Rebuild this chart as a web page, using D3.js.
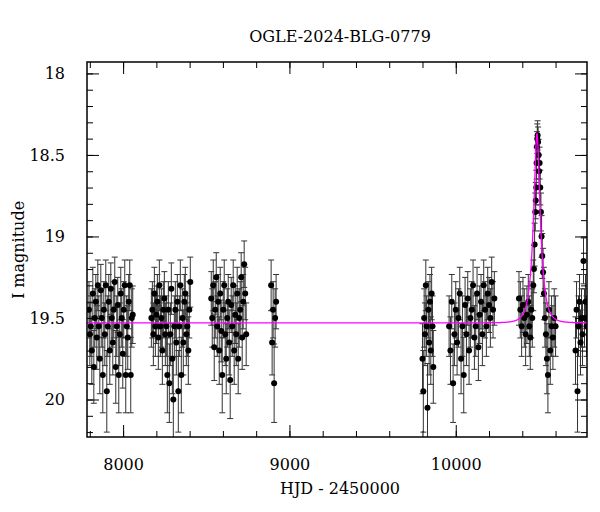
<!DOCTYPE html>
<html><head><meta charset="utf-8">
<script src="https://cdn.jsdelivr.net/npm/d3@7"></script>
<style>body{margin:0;background:#fff}text{font-family:"DejaVu Serif",serif}</style>
</head><body><svg id="c" width="600" height="512"></svg>
<script>
const title = "OGLE-2024-BLG-0779";
const xLabel = "HJD - 2450000";
const yLabel = "I magnitude";
const xTicks = [8000, 9000, 10000];
const yTicks = [18, 18.5, 19, 19.5, 20];
// observations: HJD-2450000, I mag, error
const obsJD = [
7795,7800,7806,7812,7818,7824,7830,7836,7842,7848,7854,7860,7866,7872,7878,7884,7890,7896,7902,7908,7914,7920,7926,7932,7938,7944,7950,7956,7962,7968,7974,7980,7986,7992,7998,8004,8010,8016,8022,8028,8034,8040,8046,8052,8058,
8170,8176,8182,8188,8194,8200,8206,8212,8218,8224,8230,8236,8242,8248,8254,8260,8266,8272,8278,8284,8290,8296,8302,8308,8314,8320,8326,8332,8338,8344,8350,8356,8362,8368,8374,8380,8386,8392,8398,8404,
8530,8536,8542,8548,8554,8560,8566,8572,8578,8584,8590,8596,8602,8608,8614,8620,8626,8632,8638,8644,8650,8656,8662,8668,8674,8680,8686,8692,8698,8704,8710,8716,8722,8728,8734,8740,
8890,8896,8902,8908,8914,8920,
9800,9805,9810,9815,9820,9825,9830,9835,9840,9845,9850,9855,9860,9865,
9960,9968,9976,9984,9992,10000,10008,10016,10024,10032,10040,10048,10056,10064,10072,10080,10088,10096,10104,10112,10120,10128,10136,10144,10152,10160,10168,10176,10184,10192,10200,10208,10216,10224,10232,
10380,10388,10396,10404,10412,10420,10428,10436,10442,10448,10454,10460,10466,10470,10474,10478,10481,10484,10486,10488,10490,10492,10495,10498,10501,10504,10508,10512,10516,10520,10525,10530,10536,10542,10548,10554,10560,10568,10576,10584,10592,10600,
10720,10726,10732,10738,10744,10750,10756,10762,10768,10774,10780,10786];
const obsMag = [
19.45,19.60,19.55,19.70,19.35,19.80,19.50,19.40,19.62,19.30,19.55,19.75,19.33,19.50,19.85,19.45,19.60,19.30,19.95,19.55,19.40,19.70,19.32,19.50,19.65,19.45,19.28,19.80,19.55,19.42,19.85,19.60,19.35,19.50,19.72,19.45,19.30,19.85,19.55,19.62,19.40,19.30,19.85,19.50,19.48,
19.50,19.45,19.60,19.35,19.55,19.48,19.40,19.62,19.30,19.55,19.50,19.70,19.45,19.38,19.60,19.55,19.85,19.45,19.90,19.60,19.32,19.75,20.00,19.55,19.45,19.65,19.40,19.95,19.55,19.30,19.85,19.50,19.65,19.40,19.35,19.60,19.55,19.70,19.45,19.28,
19.38,19.50,19.30,19.68,19.45,19.25,19.55,19.40,19.70,19.35,19.58,19.85,19.45,19.30,19.60,19.75,19.50,19.40,19.65,19.88,19.42,19.55,19.30,19.70,19.48,19.60,19.35,19.75,19.50,19.45,19.25,19.62,19.40,19.17,19.35,19.60,
19.30,19.65,19.45,19.90,19.50,19.40,
19.75,19.95,19.50,19.60,19.30,19.55,20.05,19.45,19.65,19.40,19.70,19.35,19.55,19.80,
19.55,19.70,19.40,19.90,19.60,19.45,19.65,19.50,19.35,19.75,19.55,19.85,19.42,19.60,19.38,19.70,19.50,19.45,19.30,19.62,19.55,19.35,19.68,19.48,19.40,19.60,19.30,19.45,19.55,19.35,19.42,19.50,19.28,19.45,19.38,
19.38,19.45,19.55,19.42,19.50,19.60,19.48,19.40,19.55,19.62,19.45,19.50,19.30,19.20,19.05,18.85,18.78,18.70,18.55,18.45,18.40,18.38,18.42,18.50,18.60,18.55,18.70,18.85,19.00,19.12,19.22,19.35,19.50,19.60,19.75,19.85,19.45,19.70,19.55,19.62,19.50,19.55,
19.70,19.45,19.95,19.55,19.40,19.65,19.50,19.60,19.15,19.50,19.40,19.55];
const obsErr = obsMag.map(m => 0.04 + 0.22*Math.pow(10,0.4*(m-20)) ); // photometric error grows with magnitude
// microlensing model (Paczynski) parameters
const model = {t0:10488, tE:40, u0:0.36, base:19.53};

const svg = d3.select("#c");
const L=87,R=587,T=62,B=437;
const x = d3.scaleLinear().domain([7783,10789]).range([L,R]);
const y = d3.scaleLinear().domain([17.93,20.23]).range([T,B]);

svg.append("clipPath").attr("id","cp").append("rect").attr("x",L).attr("y",T).attr("width",R-L).attr("height",B-T);
const g = svg.append("g").attr("clip-path","url(#cp)");
const pts = obsJD.map((d,i)=>({t:d,m:obsMag[i],e:obsErr[i]}));
const eb = g.append("g").attr("stroke","#333").attr("stroke-width",1);
pts.forEach(p=>{
  eb.append("line").attr("x1",x(p.t)).attr("x2",x(p.t)).attr("y1",y(p.m-p.e)).attr("y2",y(p.m+p.e));
  [p.m-p.e,p.m+p.e].forEach(v=>eb.append("line").attr("x1",x(p.t)-3).attr("x2",x(p.t)+3).attr("y1",y(v)).attr("y2",y(v)));
});
g.selectAll("circle").data(pts).join("circle").attr("cx",p=>x(p.t)).attr("cy",p=>y(p.m)).attr("r",3).attr("fill","#000");
const mt = d3.range(7783,10790,1);
const mag = t=>{const u=Math.hypot(model.u0,(t-model.t0)/model.tE);const A=(u*u+2)/(u*Math.sqrt(u*u+4));return model.base-2.5*Math.log10(A);};
g.append("path").datum(mt).attr("d",d3.line().x(t=>x(t)).y(t=>y(mag(t)))).attr("fill","none").attr("stroke","#ff00ff").attr("stroke-width",1.3);

svg.append("rect").attr("x",L).attr("y",T).attr("width",R-L).attr("height",B-T).attr("fill","none").attr("stroke","#000").attr("stroke-width",1.5);
const ax = (gen,tr)=>svg.append("g").attr("transform",tr).call(gen).call(s=>s.select(".domain").remove()).call(s=>s.selectAll("text").attr("font-size",16).attr("fill","#000").attr("font-family","DejaVu Serif"));
const xminor = d3.range(7800,10790,200), yminor = d3.range(18,20.25,0.1);
ax(d3.axisBottom(x).tickValues(xminor).tickSize(-6).tickFormat(""),`translate(0,${B})`);
ax(d3.axisTop(x).tickValues(xminor).tickSize(-6).tickFormat(""),`translate(0,${T})`);
ax(d3.axisLeft(y).tickValues(yminor).tickSize(-6).tickFormat(""),`translate(${L},0)`);
ax(d3.axisRight(y).tickValues(yminor).tickSize(-6).tickFormat(""),`translate(${R},0)`);
ax(d3.axisBottom(x).tickValues(xTicks).tickSize(-12).tickPadding(22).tickFormat(d3.format("d")),`translate(0,${B})`);
ax(d3.axisTop(x).tickValues(xTicks).tickSize(-12).tickFormat(""),`translate(0,${T})`);
ax(d3.axisLeft(y).tickValues(yTicks).tickSize(-12).tickPadding(22).tickFormat(d3.format("")),`translate(${L},0)`);
ax(d3.axisRight(y).tickValues(yTicks).tickSize(-12).tickFormat(""),`translate(${R},0)`);
svg.selectAll(".tick line").attr("stroke","#000");
svg.append("text").attr("x",340).attr("y",42).attr("text-anchor","middle").attr("font-size",16).text(title);
svg.append("text").attr("x",340).attr("y",494).attr("text-anchor","middle").attr("font-size",16).text(xLabel);
svg.append("text").attr("transform","translate(24,250) rotate(-90)").attr("text-anchor","middle").attr("font-size",16).text(yLabel);
</script></body></html>
